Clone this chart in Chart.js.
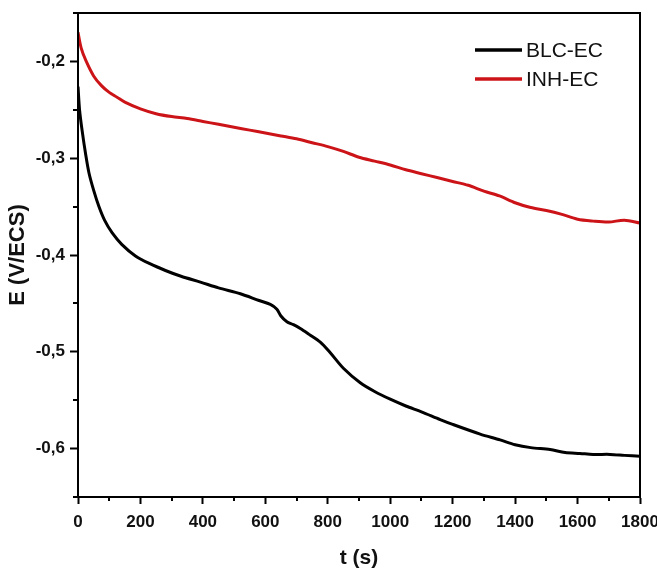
<!DOCTYPE html>
<html>
<head>
<meta charset="utf-8">
<script src="https://cdn.jsdelivr.net/npm/chart.js@4.4.0/dist/chart.umd.min.js"></script>
<style>
  html, body { margin: 0; padding: 0; background: #fff; }
  #wrap { width: 657px; height: 571px; }
</style>
</head>
<body>
<div id="wrap"><canvas id="c" width="657" height="571"></canvas></div>
<script>
// ---- data ----
const seriesNames = ['BLC-EC', 'INH-EC'];
const seriesColors = ['#000000', '#cc1418'];

const blcTime = [0, 5, 13, 25, 35, 50, 67, 85, 109, 140, 184, 230, 280, 330, 392, 450, 520, 580, 616, 637, 650, 669, 690, 712, 740, 776, 808, 850, 904, 950, 1000, 1050, 1100, 1160, 1200, 1288, 1352, 1400, 1450, 1512, 1560, 1608, 1650, 1704, 1750, 1800];
const blcValues = [-0.226, -0.250, -0.271, -0.297, -0.315, -0.333, -0.350, -0.364, -0.377, -0.389, -0.401, -0.409, -0.416, -0.422, -0.428, -0.434, -0.440, -0.447, -0.451, -0.456, -0.463, -0.469, -0.472, -0.476, -0.482, -0.490, -0.501, -0.517, -0.532, -0.541, -0.549, -0.556, -0.562, -0.570, -0.575, -0.585, -0.591, -0.596, -0.599, -0.601, -0.604, -0.605, -0.606, -0.606, -0.607, -0.608];

const inhTime = [0, 10, 25, 50, 75, 100, 125, 150, 200, 250, 300, 350, 400, 450, 500, 550, 600, 650, 700, 750, 800, 850, 900, 950, 1000, 1050, 1100, 1150, 1200, 1250, 1300, 1350, 1400, 1450, 1500, 1550, 1600, 1650, 1700, 1750, 1800];
const inhValues = [-0.170, -0.186, -0.199, -0.215, -0.225, -0.232, -0.237, -0.242, -0.249, -0.254, -0.257, -0.259, -0.262, -0.265, -0.268, -0.271, -0.274, -0.277, -0.280, -0.284, -0.288, -0.293, -0.299, -0.303, -0.307, -0.312, -0.316, -0.320, -0.324, -0.328, -0.334, -0.339, -0.346, -0.351, -0.354, -0.358, -0.363, -0.365, -0.366, -0.364, -0.367];

const xMajorTicks = [0, 200, 400, 600, 800, 1000, 1200, 1400, 1600, 1800];
const yMajorTicks = [-0.2, -0.3, -0.4, -0.5, -0.6];
const xTitle = 't (s)';
const yTitle = 'E (V/ECS)';

function pts(t, v) { return t.map((x, i) => ({ x: x, y: v[i] })); }

const FONT = '"Liberation Sans", Arial, sans-serif';

const isMajor = (val, list) => list.some(m => Math.abs(m - val) < 1e-6);

const framePlugin = {
  id: 'frame',
  afterDraw(chart) {
    const { ctx, chartArea: a, scales } = chart;
    ctx.save();
    ctx.strokeStyle = '#000';
    ctx.lineWidth = 2;
    ctx.strokeRect(a.left, a.top, a.right - a.left, a.bottom - a.top);
    // minor ticks
    ctx.beginPath();
    scales.x.ticks.forEach(t => {
      if (!isMajor(t.value, xMajorTicks)) {
        const px = Math.round(scales.x.getPixelForValue(t.value));
        ctx.moveTo(px, a.bottom);
        ctx.lineTo(px, a.bottom + 4);
      }
    });
    scales.y.ticks.forEach(t => {
      if (!isMajor(t.value, yMajorTicks)) {
        const py = Math.round(scales.y.getPixelForValue(t.value));
        ctx.moveTo(a.left, py);
        ctx.lineTo(a.left - 5, py);
      }
    });
    ctx.stroke();
    // legend
    const lx0 = 475, lx1 = 522, ly = [50, 79];
    chart.data.datasets.forEach((ds, i) => {
      ctx.strokeStyle = ds.borderColor;
      ctx.lineWidth = 3.5;
      ctx.beginPath();
      ctx.moveTo(lx0, ly[i]);
      ctx.lineTo(lx1, ly[i]);
      ctx.stroke();
      ctx.fillStyle = '#111';
      ctx.font = '21px ' + FONT;
      ctx.textBaseline = 'middle';
      ctx.textAlign = 'left';
      ctx.fillText(ds.label, lx1 + 4, ly[i] + 1);
    });
    ctx.restore();
  }
};

new Chart(document.getElementById('c'), {
  type: 'line',
  data: {
    datasets: [
      { label: seriesNames[0], data: pts(blcTime, blcValues), borderColor: seriesColors[0], borderWidth: 3, pointRadius: 0, tension: 0.3, fill: false },
      { label: seriesNames[1], data: pts(inhTime, inhValues), borderColor: seriesColors[1], borderWidth: 3, pointRadius: 0, tension: 0.3, fill: false }
    ]
  },
  options: {
    responsive: false,
    animation: false,
    devicePixelRatio: 1,
    layout: { padding: { left: 0, right: 17, top: 13, bottom: 0 } },
    plugins: { legend: { display: false }, tooltip: { enabled: false } },
    scales: {
      x: {
        type: 'linear',
        min: 0, max: 1800,
        afterFit: s => { s.height = 74; s.paddingLeft = 0; s.paddingRight = 0; },
        ticks: {
          stepSize: 100,
          autoSkip: false,
          maxRotation: 0,
          padding: 8,
          color: '#111',
          font: { family: FONT, size: 17, weight: 'bold' },
          callback: v => isMajor(v, xMajorTicks) ? String(v) : ''
        },
        grid: {
          drawOnChartArea: false,
          tickLength: 7,
          tickWidth: 2,
          tickColor: ctx => (ctx.tick && isMajor(ctx.tick.value, xMajorTicks)) ? '#000' : 'rgba(0,0,0,0)'
        },
        border: { display: true, color: '#000', width: 2 },
        title: { display: true, text: xTitle, color: '#111', font: { family: FONT, size: 21, weight: 'bold' }, padding: { top: 4, bottom: 0 } }
      },
      y: {
        type: 'linear',
        min: -0.65, max: -0.15,
        afterFit: s => { s.width = 78; s.paddingTop = 0; s.paddingBottom = 0; },
        ticks: {
          stepSize: 0.05,
          autoSkip: false,
          padding: 5,
          color: '#111',
          font: { family: FONT, size: 17, weight: 'bold' },
          callback: v => isMajor(v, yMajorTicks) ? v.toFixed(1).replace('.', ',') : ''
        },
        grid: {
          drawOnChartArea: false,
          tickLength: 8,
          tickWidth: 2,
          tickColor: ctx => (ctx.tick && isMajor(ctx.tick.value, yMajorTicks)) ? '#000' : 'rgba(0,0,0,0)'
        },
        border: { display: true, color: '#000', width: 2 },
        title: { display: true, text: yTitle, color: '#111', font: { family: FONT, size: 22, weight: 'bold' }, padding: { top: 5, bottom: 0 } }
      }
    }
  },
  plugins: [framePlugin]
});
</script>
</body>
</html>
